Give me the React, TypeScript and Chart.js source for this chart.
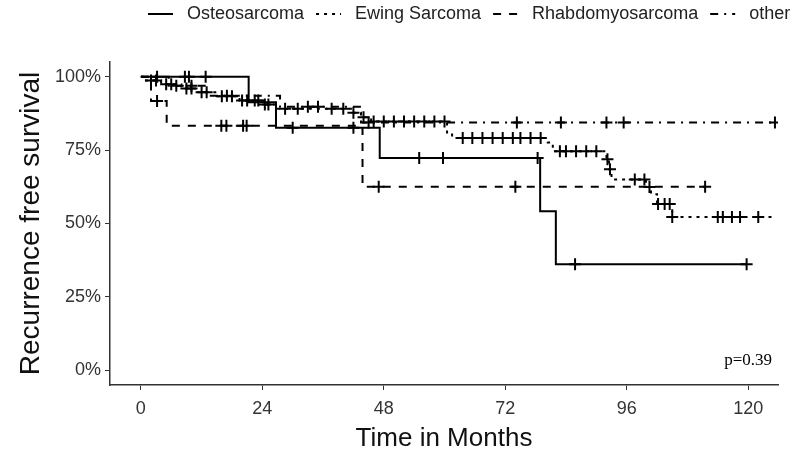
import React, { useEffect, useRef } from "react";
import { Chart, registerables } from "chart.js";
Chart.register(...registerables);

// ---- data ----
const seriesNames = ["Osteosarcoma", "Ewing Sarcoma", "Rhabdomyosarcoma", "other"];

const osteoTime = [0, 21.3, 26.7, 47.2, 78.9, 82.0];
const osteoSurv = [100, 91.3, 82.6, 72.3, 54.2, 36.1];
const osteoEnd = 119.7;
const osteoCensor = [3.2, 8.7, 9.5, 12.8, 30, 42, 55, 59.7, 78.4, 85.8, 119.7];

const ewingTime = [0, 1, 4, 8, 11, 15, 19.5, 24, 26.5, 41.5, 43.5, 45.5, 60.5, 61.5, 80.4, 81.4, 92, 92.5, 93, 99.8, 100.8, 102, 105];
const ewingSurv = [100, 98.7, 97.4, 96, 94.7, 93.3, 91.9, 90.5, 89.1, 87.7, 86.2, 84.7, 81, 79.1, 77.6, 74.6, 71.9, 68.5, 65, 62.4, 60, 56.6, 52.2];
const ewingEnd = 125.5;
const ewingCensor = [2, 3, 5, 6, 9, 10, 12, 13, 16, 18, 20, 21, 22.5, 23.2, 24.5, 25.2, 28.5, 31, 37.7, 40, 42, 44, 46, 48, 50, 52, 54, 56, 58, 60, 63.6, 65.5, 67.5, 69.5, 71.5, 73.5, 75, 77, 79, 82.8, 84, 86, 88, 90, 92.2, 92.7, 97.6, 99.5, 100.5, 102.2, 103.5, 104.5, 105, 114, 115, 116.8, 118.4, 122];

const rhabdoTime = [0, 2, 5.1, 43.8];
const rhabdoSurv = [100, 91.7, 83.3, 62.5];
const rhabdoEnd = 111.5;
const rhabdoCensor = [3.2, 15.9, 16.9, 20.2, 20.9, 47, 74, 111.5];

const otherTime = [0, 5.5, 13, 27.5, 43.5];
const otherSurv = [100, 96.9, 93.5, 89.8, 84.4];
const otherEnd = 125.3;
const otherCensor = [7, 10, 17, 33, 35, 45, 74.3, 83, 92, 95.4, 125.3];

const xTicks = [0, 24, 48, 72, 96, 120];
const yTicks = [0, 25, 50, 75, 100];
const pValueText = "p=0.39";

// ---- helpers ----
function survAt(times: number[], surv: number[], t: number): number {
  let s = surv[0];
  for (let i = 0; i < times.length; i++) if (times[i] <= t) s = surv[i];
  return s;
}
function curve(times: number[], surv: number[], end: number) {
  const pts = times.map((t, i) => ({ x: t, y: surv[i] }));
  pts.push({ x: end, y: surv[surv.length - 1] });
  return pts;
}
function censors(times: number[], surv: number[], cs: number[]) {
  return cs.map((t) => ({ x: t, y: survAt(times, surv, t) }));
}

const FONT = "'Liberation Sans', Arial, sans-serif";
const dashes: number[][] = [[], [3, 5], [8, 8], [8, 6, 2, 6]];

const legendPlugin = {
  id: "kmLegend",
  afterDraw(chart: any) {
    const ctx = chart.ctx;
    ctx.save();
    ctx.font = "18px " + FONT;
    ctx.textBaseline = "middle";
    ctx.fillStyle = "#222";
    let x = 148;
    const y = 14;
    seriesNames.forEach((name, i) => {
      ctx.beginPath();
      ctx.setLineDash(dashes[i]);
      ctx.lineWidth = 2;
      ctx.strokeStyle = "#000";
      ctx.moveTo(x, y);
      ctx.lineTo(x + 25, y);
      ctx.stroke();
      ctx.setLineDash([]);
      ctx.fillText(name, x + 39, y);
      x = x + 39 + ctx.measureText(name).width + 12;
    });
    ctx.restore();
  },
};

const pPlugin = {
  id: "pValue",
  afterDatasetsDraw(chart: any) {
    const ctx = chart.ctx;
    const xs = chart.scales.x;
    const ys = chart.scales.y;
    ctx.save();
    ctx.font = "17px 'Liberation Serif', 'Times New Roman', serif";
    ctx.fillStyle = "#000";
    ctx.textAlign = "center";
    ctx.textBaseline = "middle";
    ctx.fillText(pValueText, xs.getPixelForValue(120), ys.getPixelForValue(3.3));
    ctx.restore();
  },
};

export default function App() {
  const ref = useRef<HTMLCanvasElement | null>(null);
  useEffect(() => {
    document.body.style.margin = "0";
    if (!ref.current) return;
    const lineDs = (label: string, data: any[], dash: number[]) => ({
      type: "line" as const,
      label,
      data,
      stepped: "before" as const,
      borderColor: "#000",
      borderWidth: 2,
      borderDash: dash,
      pointRadius: 0,
      fill: false,
    });
    const censDs = (label: string, data: any[]) => ({
      type: "scatter" as const,
      label,
      data,
      pointStyle: "cross" as const,
      pointRadius: 6,
      pointBorderWidth: 2,
      borderColor: "#000",
      backgroundColor: "#000",
      showLine: false,
    });
    const chart = new Chart(ref.current, {
      type: "line",
      data: {
        datasets: [
          lineDs(seriesNames[0], curve(osteoTime, osteoSurv, osteoEnd), dashes[0]),
          lineDs(seriesNames[1], curve(ewingTime, ewingSurv, ewingEnd), dashes[1]),
          lineDs(seriesNames[2], curve(rhabdoTime, rhabdoSurv, rhabdoEnd), dashes[2]),
          lineDs(seriesNames[3], curve(otherTime, otherSurv, otherEnd), dashes[3]),
          censDs("c1", censors(osteoTime, osteoSurv, osteoCensor)),
          censDs("c2", censors(ewingTime, ewingSurv, ewingCensor)),
          censDs("c3", censors(rhabdoTime, rhabdoSurv, rhabdoCensor)),
          censDs("c4", censors(otherTime, otherSurv, otherCensor)),
        ] as any,
      },
      options: {
        animation: false,
        responsive: true,
        maintainAspectRatio: false,
        layout: { padding: { top: 62, right: 22, left: 0, bottom: 0 } },
        plugins: { legend: { display: false }, tooltip: { enabled: false } },
        scales: {
          x: {
            type: "linear",
            min: -6.1,
            max: 125.9,
            afterBuildTicks: (s: any) => {
              s.ticks = xTicks.map((v) => ({ value: v }));
            },
            afterFit: (s: any) => {
              s.height = 74;
            },
            ticks: {
              font: { size: 18, family: FONT },
              color: "#333",
              padding: 8,
              maxRotation: 0,
            },
            grid: { display: true, drawOnChartArea: false, drawTicks: true, tickLength: 5, color: "#333" },
            border: { display: true, color: "#333", width: 1.5 },
            title: {
              display: true,
              text: "Time in Months",
              font: { size: 26, family: FONT },
              color: "#111",
              padding: { top: 0, bottom: 5 },
            },
          },
          y: {
            type: "linear",
            min: -5,
            max: 105,
            afterBuildTicks: (s: any) => {
              s.ticks = yTicks.map((v) => ({ value: v }));
            },
            afterFit: (s: any) => {
              s.width = 110;
            },
            ticks: {
              font: { size: 18, family: FONT },
              color: "#333",
              padding: 4,
              callback: (v: any) => v + "%",
            },
            grid: { display: true, drawOnChartArea: false, drawTicks: true, tickLength: 5, color: "#333" },
            border: { display: true, color: "#333", width: 1.5 },
            title: {
              display: true,
              text: "Recurrence free survival",
              font: { size: 28, family: FONT },
              color: "#111",
              padding: { top: 14, bottom: 0 },
            },
          },
        },
      },
      plugins: [legendPlugin, pPlugin],
    });
    return () => chart.destroy();
  }, []);
  return (
    <div style={{ width: 800, height: 459, position: "relative" }}>
      <canvas ref={ref} />
    </div>
  );
}
